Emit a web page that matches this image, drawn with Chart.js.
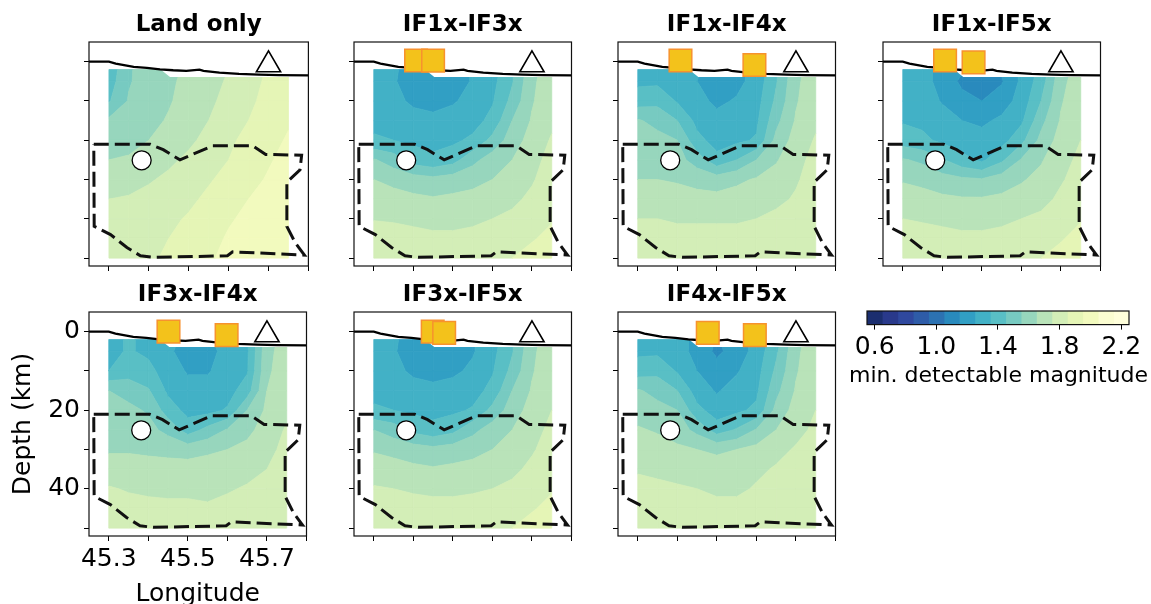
<!DOCTYPE html>
<html>
<head>
<meta charset="utf-8">
<script src="https://cdn.jsdelivr.net/npm/chart.js@4.4.1/dist/chart.umd.min.js"></script>
<style>
  html, body { margin: 0; padding: 0; background: #fff; overflow: hidden; }
  body { width: 1151px; height: 604px; position: relative; }
  canvas { position: absolute; }
</style>
</head>
<body>
<script>
const FONT = 'DejaVu Sans';

// grid of the detection maps
const gridLon = [45.30, 45.35, 45.40, 45.45, 45.50, 45.55, 45.60, 45.65, 45.70, 45.75];
const gridDepth = [2, 5, 10, 15, 20, 25, 30, 35, 40, 45, 50];

// axis ticks
const lonTicks = [45.3, 45.4, 45.5, 45.6, 45.7, 45.8];
const lonLabels = [45.3, 45.5, 45.7];
const depthTicks = [0, 10, 20, 30, 40, 50];
const depthLabels = [0, 20, 40];

// contour levels (band centres) and colorbar ticks
const levelCenters = [0.6, 0.7, 0.8, 0.9, 1.0, 1.1, 1.2, 1.3, 1.4, 1.5, 1.6, 1.7, 1.8, 1.9, 2.0, 2.1, 2.2];
const cbTicks = [0.6, 1.0, 1.4, 1.8, 2.2];

// min. detectable magnitude, rows = gridDepth, cols = gridLon
const landOnly = [
  [1.38, 1.54, 1.59, 1.62, 1.67, 1.71, 1.75, 1.80, 1.86, 1.88],
  [1.40, 1.54, 1.60, 1.63, 1.68, 1.72, 1.76, 1.81, 1.87, 1.90],
  [1.44, 1.56, 1.61, 1.64, 1.69, 1.73, 1.78, 1.83, 1.88, 1.92],
  [1.57, 1.59, 1.62, 1.66, 1.71, 1.75, 1.80, 1.85, 1.90, 1.94],
  [1.61, 1.62, 1.65, 1.69, 1.73, 1.78, 1.83, 1.88, 1.92, 1.96],
  [1.65, 1.66, 1.69, 1.73, 1.77, 1.81, 1.85, 1.90, 1.94, 1.98],
  [1.70, 1.71, 1.74, 1.77, 1.80, 1.84, 1.88, 1.92, 1.96, 2.00],
  [1.75, 1.76, 1.78, 1.80, 1.83, 1.87, 1.91, 1.95, 1.98, 2.01],
  [1.79, 1.80, 1.81, 1.83, 1.86, 1.90, 1.94, 1.97, 2.00, 2.02],
  [1.81, 1.82, 1.83, 1.85, 1.88, 1.92, 1.96, 1.99, 2.01, 2.03],
  [1.82, 1.83, 1.84, 1.86, 1.90, 1.94, 1.97, 2.00, 2.02, 2.03],
];
const if1x3x = [
  [1.28, 1.26, 1.22, 1.18, 1.20, 1.26, 1.31, 1.42, 1.62, 1.70],
  [1.29, 1.26, 1.20, 1.16, 1.19, 1.26, 1.32, 1.44, 1.63, 1.71],
  [1.31, 1.28, 1.23, 1.21, 1.24, 1.28, 1.34, 1.48, 1.64, 1.72],
  [1.33, 1.31, 1.29, 1.28, 1.29, 1.31, 1.38, 1.55, 1.66, 1.73],
  [1.36, 1.35, 1.33, 1.32, 1.33, 1.37, 1.48, 1.60, 1.69, 1.76],
  [1.56, 1.50, 1.40, 1.37, 1.41, 1.52, 1.60, 1.65, 1.72, 1.78],
  [1.65, 1.62, 1.60, 1.58, 1.60, 1.62, 1.65, 1.69, 1.74, 1.80],
  [1.70, 1.69, 1.67, 1.66, 1.67, 1.68, 1.70, 1.73, 1.77, 1.82],
  [1.745, 1.74, 1.73, 1.72, 1.72, 1.73, 1.75, 1.77, 1.80, 1.84],
  [1.80, 1.79, 1.78, 1.77, 1.77, 1.78, 1.79, 1.81, 1.84, 1.88],
  [1.83, 1.82, 1.81, 1.81, 1.81, 1.81, 1.82, 1.85, 1.89, 1.93],
];
const if1x4x = [
  [1.32, 1.31, 1.29, 1.26, 1.20, 1.22, 1.28, 1.42, 1.62, 1.70],
  [1.33, 1.33, 1.30, 1.25, 1.19, 1.22, 1.29, 1.44, 1.63, 1.71],
  [1.40, 1.42, 1.34, 1.28, 1.23, 1.26, 1.31, 1.47, 1.64, 1.72],
  [1.56, 1.52, 1.45, 1.32, 1.28, 1.30, 1.33, 1.52, 1.66, 1.73],
  [1.60, 1.58, 1.55, 1.38, 1.31, 1.33, 1.36, 1.58, 1.69, 1.76],
  [1.62, 1.61, 1.59, 1.50, 1.38, 1.45, 1.55, 1.64, 1.72, 1.78],
  [1.65, 1.65, 1.64, 1.62, 1.60, 1.63, 1.66, 1.69, 1.74, 1.79],
  [1.70, 1.69, 1.69, 1.68, 1.68, 1.69, 1.70, 1.73, 1.76, 1.80],
  [1.75, 1.75, 1.74, 1.74, 1.74, 1.74, 1.75, 1.77, 1.79, 1.82],
  [1.79, 1.79, 1.78, 1.78, 1.78, 1.78, 1.79, 1.80, 1.81, 1.83],
  [1.82, 1.81, 1.81, 1.81, 1.81, 1.81, 1.81, 1.82, 1.83, 1.84],
];
const if1x5x = [
  [1.30, 1.28, 1.22, 1.16, 1.03, 1.16, 1.27, 1.38, 1.60, 1.70],
  [1.31, 1.29, 1.21, 1.13, 1.06, 1.14, 1.27, 1.40, 1.62, 1.71],
  [1.32, 1.31, 1.24, 1.18, 1.15, 1.20, 1.29, 1.45, 1.64, 1.72],
  [1.34, 1.33, 1.30, 1.25, 1.23, 1.27, 1.33, 1.52, 1.66, 1.73],
  [1.40, 1.37, 1.33, 1.30, 1.29, 1.31, 1.42, 1.58, 1.69, 1.75],
  [1.56, 1.53, 1.46, 1.38, 1.33, 1.43, 1.56, 1.64, 1.72, 1.77],
  [1.64, 1.62, 1.59, 1.57, 1.56, 1.60, 1.64, 1.68, 1.74, 1.79],
  [1.70, 1.69, 1.67, 1.66, 1.66, 1.67, 1.69, 1.72, 1.77, 1.81],
  [1.75, 1.74, 1.73, 1.72, 1.72, 1.73, 1.75, 1.77, 1.80, 1.84],
  [1.80, 1.79, 1.78, 1.77, 1.77, 1.78, 1.79, 1.81, 1.84, 1.89],
  [1.83, 1.82, 1.81, 1.81, 1.81, 1.81, 1.82, 1.85, 1.89, 1.93],
];
const if3x4x = [
  [1.32, 1.36, 1.33, 1.28, 1.22, 1.23, 1.30, 1.33, 1.60, 1.70],
  [1.32, 1.36, 1.33, 1.27, 1.20, 1.21, 1.29, 1.33, 1.62, 1.70],
  [1.35, 1.40, 1.38, 1.30, 1.24, 1.24, 1.30, 1.34, 1.63, 1.71],
  [1.55, 1.52, 1.46, 1.33, 1.29, 1.29, 1.31, 1.40, 1.65, 1.72],
  [1.58, 1.57, 1.54, 1.40, 1.32, 1.32, 1.36, 1.55, 1.67, 1.73],
  [1.61, 1.60, 1.58, 1.52, 1.40, 1.48, 1.56, 1.62, 1.70, 1.76],
  [1.64, 1.64, 1.63, 1.62, 1.61, 1.63, 1.65, 1.68, 1.72, 1.78],
  [1.69, 1.69, 1.69, 1.69, 1.69, 1.70, 1.70, 1.72, 1.75, 1.80],
  [1.76, 1.74, 1.73, 1.73, 1.73, 1.73, 1.74, 1.76, 1.78, 1.82],
  [1.80, 1.79, 1.78, 1.77, 1.77, 1.76, 1.78, 1.80, 1.82, 1.84],
  [1.82, 1.81, 1.81, 1.80, 1.80, 1.80, 1.81, 1.82, 1.83, 1.84],
];
const if3x5x = [
  [1.30, 1.26, 1.22, 1.19, 1.20, 1.24, 1.31, 1.42, 1.62, 1.70],
  [1.30, 1.26, 1.20, 1.17, 1.19, 1.24, 1.32, 1.44, 1.63, 1.71],
  [1.31, 1.28, 1.23, 1.21, 1.23, 1.27, 1.34, 1.48, 1.64, 1.72],
  [1.33, 1.31, 1.29, 1.28, 1.29, 1.31, 1.38, 1.55, 1.66, 1.73],
  [1.36, 1.35, 1.33, 1.32, 1.33, 1.36, 1.48, 1.60, 1.69, 1.75],
  [1.55, 1.50, 1.42, 1.38, 1.42, 1.52, 1.60, 1.65, 1.72, 1.77],
  [1.64, 1.62, 1.60, 1.58, 1.60, 1.62, 1.65, 1.69, 1.74, 1.79],
  [1.70, 1.69, 1.67, 1.66, 1.67, 1.68, 1.70, 1.73, 1.77, 1.81],
  [1.76, 1.75, 1.74, 1.73, 1.73, 1.74, 1.75, 1.77, 1.80, 1.84],
  [1.80, 1.79, 1.78, 1.78, 1.78, 1.78, 1.79, 1.81, 1.84, 1.88],
  [1.83, 1.82, 1.81, 1.81, 1.81, 1.81, 1.82, 1.85, 1.89, 1.93],
];
const if4x5x = [
  [1.32, 1.31, 1.29, 1.22, 1.14, 1.20, 1.28, 1.40, 1.62, 1.70],
  [1.33, 1.33, 1.30, 1.21, 1.13, 1.19, 1.29, 1.43, 1.63, 1.71],
  [1.40, 1.42, 1.34, 1.25, 1.19, 1.24, 1.31, 1.47, 1.64, 1.72],
  [1.56, 1.52, 1.45, 1.30, 1.24, 1.29, 1.33, 1.52, 1.66, 1.73],
  [1.61, 1.58, 1.55, 1.38, 1.30, 1.33, 1.37, 1.58, 1.69, 1.75],
  [1.66, 1.64, 1.60, 1.52, 1.40, 1.46, 1.56, 1.65, 1.72, 1.77],
  [1.70, 1.69, 1.67, 1.65, 1.63, 1.65, 1.68, 1.72, 1.76, 1.80],
  [1.74, 1.73, 1.72, 1.71, 1.70, 1.71, 1.73, 1.76, 1.79, 1.81],
  [1.78, 1.77, 1.76, 1.75, 1.73, 1.73, 1.76, 1.79, 1.81, 1.83],
  [1.81, 1.80, 1.80, 1.79, 1.78, 1.78, 1.80, 1.81, 1.83, 1.84],
  [1.83, 1.82, 1.82, 1.82, 1.82, 1.82, 1.82, 1.83, 1.84, 1.85],
];

const panelTitles = ['Land only', 'IF1x-IF3x', 'IF1x-IF4x', 'IF1x-IF5x', 'IF3x-IF4x', 'IF3x-IF5x', 'IF4x-IF5x'];
const panelGrids = [landOnly, if1x3x, if1x4x, if1x5x, if3x4x, if3x5x, if4x5x];

// seafloor instruments (squares) per panel
const obsLon = [[], [45.407, 45.450], [45.408, 45.595], [45.407, 45.479], [45.451, 45.598], [45.449, 45.478], [45.477, 45.596]];
const obsDepth = [[], [-0.3, -0.25], [-0.3, 0.85], [-0.3, 0.2], [0.0, 0.9], [0.0, 0.3], [0.3, 0.9]];

// land station, source, coastline, dashed zone, masked cells near the surface
const stationLon = [45.70];
const stationDepth = [0.8];
const sourceLon = [45.382];
const sourceDepth = [25.1];
const coastLon = [45.25, 45.30, 45.317, 45.362, 45.395, 45.428, 45.461, 45.494, 45.527, 45.537, 45.577, 45.626, 45.676, 45.726, 45.80];
const coastDepth = [0, 0, 0.5, 1.35, 1.6, 1.94, 2.19, 2.36, 2.03, 2.36, 2.78, 3.12, 3.32, 3.45, 3.5];
const zoneLon = [45.262, 45.403, 45.436, 45.478, 45.56, 45.66, 45.693, 45.783, 45.779, 45.746, 45.746, 45.767, 45.79, 45.61, 45.597, 45.412, 45.379, 45.345, 45.304, 45.263, 45.262];
const zoneDepth = [21.0, 21.0, 22.4, 25.0, 21.4, 21.4, 23.6, 23.8, 27.5, 30.7, 41.9, 46.1, 49.2, 48.4, 49.4, 49.8, 49.4, 47.3, 44.0, 41.9, 21.0];
const maskLon = [45.428, 45.453, 45.76, 45.76];
const maskDepth = [1.9, 3.9, 3.9, 1.9];

// layout
const panelLeft = [89, 354, 618, 883, 89, 354, 618];
const panelTop = [42, 42, 42, 42, 312, 312, 312];
const PLOT_W = 221, PLOT_H = 224, Y_AXIS_W = 89, TITLE_H = 31;

const ylgnbu = ['#ffffd9', '#edf8b1', '#c7e9b4', '#7fcdbb', '#41b6c4', '#1d91c0', '#225ea8', '#253494', '#081d58'];

const hexRgb = (h) => [1, 3, 5].map((i) => parseInt(h.substr(i, 2), 16));

// YlGnBu_r, slightly transparent over white
const bandColor = (i) => {
  const stops = ylgnbu.slice().reverse();
  const t = Math.min((i + 0.5) / (levelCenters.length - 1), 1);
  const pos = t * (stops.length - 1);
  const k = Math.min(Math.floor(pos), stops.length - 2);
  const f = pos - k;
  const a = hexRgb(stops[k]);
  const b = hexRgb(stops[k + 1]);
  const rgb = a.map((v, j) => (v + (b[j] - v) * f) * 0.95 + 255 * 0.05);
  return 'rgb(' + rgb.map(Math.round).join(',') + ')';
};
const bandColors = levelCenters.map((c, i) => bandColor(i));

// keep the part of a polygon where f(p) >= 0
const clipHalf = (poly, f) => {
  const out = [];
  for (let i = 0; i < poly.length; i++) {
    const a = poly[i];
    const b = poly[(i + 1) % poly.length];
    const fa = f(a);
    const fb = f(b);
    if (fa >= 0) out.push(a);
    if ((fa >= 0) !== (fb >= 0)) {
      const t = fa / (fa - fb);
      out.push({ x: a.x + t * (b.x - a.x), y: a.y + t * (b.y - a.y), v: a.v + t * (b.v - a.v) });
    }
  }
  return out;
};

const contourPlugin = (grid) => ({
  id: 'contour',
  beforeDatasetsDraw(chart) {
    const xs = chart.scales.x;
    const ys = chart.scales.y;
    const ctx = chart.ctx;
    const pt = (r, c) => ({ x: xs.getPixelForValue(gridLon[c]), y: ys.getPixelForValue(gridDepth[r]), v: grid[r][c] });
    ctx.save();
    ctx.lineWidth = 0.8;
    ctx.lineJoin = 'round';
    for (let r = 0; r < gridDepth.length - 1; r++) {
      for (let c = 0; c < gridLon.length - 1; c++) {
        const quad = [pt(r, c), pt(r, c + 1), pt(r + 1, c + 1), pt(r + 1, c)];
        levelCenters.forEach((lc, k) => {
          let poly = clipHalf(quad, (p) => p.v - (lc - 0.05));
          if (poly.length < 3) return;
          poly = clipHalf(poly, (p) => (lc + 0.05) - p.v);
          if (poly.length < 3) return;
          ctx.beginPath();
          poly.forEach((p, i) => (i ? ctx.lineTo(p.x, p.y) : ctx.moveTo(p.x, p.y)));
          ctx.closePath();
          ctx.fillStyle = bandColors[k];
          ctx.strokeStyle = bandColors[k];
          ctx.fill();
          ctx.stroke();
        });
      }
    }
    // masked cells below the coastline
    ctx.beginPath();
    maskLon.forEach((x, i) => {
      const px = xs.getPixelForValue(x);
      const py = ys.getPixelForValue(maskDepth[i]);
      i ? ctx.lineTo(px, py) : ctx.moveTo(px, py);
    });
    ctx.closePath();
    ctx.fillStyle = '#fff';
    ctx.fill();
    ctx.restore();
  },
});

const framePlugin = {
  id: 'frame',
  afterDatasetsDraw(chart) {
    const a = chart.chartArea;
    const ctx = chart.ctx;
    ctx.save();
    ctx.strokeStyle = '#111';
    ctx.lineWidth = 1.2;
    ctx.strokeRect(a.left, a.top, a.right - a.left, a.bottom - a.top);
    ctx.restore();
  },
};

const toPoints = (xs, ys) => xs.map((x, i) => ({ x, y: ys[i] }));
const near = (list, v) => list.some((t) => Math.abs(t - v) < 1e-6);

const makeCanvas = (left, top, w, h) => {
  const cv = document.createElement('canvas');
  cv.width = w;
  cv.height = h;
  cv.style.left = left + 'px';
  cv.style.top = top + 'px';
  cv.style.width = w + 'px';
  cv.style.height = h + 'px';
  document.body.appendChild(cv);
  return cv;
};

// an axis box that only holds a fixed amount of space
const spacer = (position, size, extra) => Object.assign({
  type: 'linear',
  position,
  display: true,
  ticks: { display: false },
  grid: { display: false },
  border: { display: false },
  afterFit: (s) => {
    if (s.isHorizontal()) s.height = size; else s.width = size;
  },
}, extra || {});

const makePanel = (p) => {
  const labelled = p === 4;
  const row2 = panelTop[p] > 100;
  const top = panelTop[p] - TITLE_H;
  const h = row2 ? 620 - top : 300;
  const w = Y_AXIS_W + PLOT_W + 14;
  const cv = makeCanvas(panelLeft[p] - Y_AXIS_W, top, w, h);
  const xAxisH = h - TITLE_H - PLOT_H;

  new Chart(cv, {
    type: 'scatter',
    data: {
      datasets: [
        {
          data: toPoints(obsLon[p], obsDepth[p]),
          pointStyle: 'rect',
          pointRadius: 16,
          backgroundColor: '#f3c21b',
          borderColor: '#f7922e',
          borderWidth: 1.5,
          order: 0,
        },
        {
          data: toPoints(stationLon, stationDepth),
          pointStyle: 'triangle',
          pointRadius: 14,
          backgroundColor: '#fff',
          borderColor: '#000',
          borderWidth: 1.6,
          order: 1,
        },
        {
          data: toPoints(sourceLon, sourceDepth),
          pointStyle: 'circle',
          pointRadius: 9.5,
          backgroundColor: '#fff',
          borderColor: '#000',
          borderWidth: 1.3,
          order: 2,
        },
        {
          data: toPoints(zoneLon, zoneDepth),
          showLine: true,
          borderColor: '#111',
          borderWidth: 3,
          borderDash: [15, 6],
          pointRadius: 0,
          order: 3,
        },
        {
          data: toPoints(coastLon, coastDepth),
          showLine: true,
          borderColor: '#000',
          borderWidth: 2.3,
          pointRadius: 0,
          order: 4,
        },
      ],
    },
    options: {
      responsive: false,
      animation: false,
      devicePixelRatio: 1,
      events: [],
      layout: { padding: { left: 0, right: 14, top: 0, bottom: 0 } },
      plugins: {
        legend: { display: false },
        tooltip: { enabled: false },
        title: { display: false },
      },
      scales: {
        x: {
          type: 'linear',
          min: 45.25,
          max: 45.8,
          afterBuildTicks: (s) => { s.ticks = lonTicks.map((v) => ({ value: v })); },
          afterFit: (s) => { s.height = xAxisH; },
          ticks: {
            autoSkip: false,
            maxRotation: 0,
            padding: 3,
            color: '#000',
            font: { family: FONT, size: 25 },
            callback: (v) => (labelled && near(lonLabels, v) ? v.toFixed(1) : ''),
          },
          grid: { drawOnChartArea: false, tickLength: 5, color: '#000', lineWidth: 1 },
          border: { display: false },
          title: {
            display: labelled,
            text: 'Longitude',
            color: '#000',
            font: { family: FONT, size: 25, lineHeight: 1.2 },
            padding: { top: 0, bottom: 11 },
          },
        },
        // panel title, centred over the plot area
        xTop: spacer('top', TITLE_H, {
          min: 45.25,
          max: 45.8,
          title: {
            display: true,
            text: panelTitles[p],
            color: '#000',
            font: { family: FONT, size: 23, weight: 'bold', lineHeight: 1.2 },
            padding: { top: 0, bottom: 0 },
          },
        }),
        y: {
          type: 'linear',
          reverse: true,
          min: -5,
          max: 52,
          afterBuildTicks: (s) => { s.ticks = depthTicks.map((v) => ({ value: v })); },
          afterFit: (s) => { s.width = Y_AXIS_W; },
          ticks: {
            autoSkip: false,
            padding: 4,
            color: '#000',
            font: { family: FONT, size: 25 },
            callback: (v) => (labelled && near(depthLabels, v) ? String(v) : ''),
          },
          grid: { drawOnChartArea: false, tickLength: 5, color: '#000', lineWidth: 1 },
          border: { display: false },
          title: {
            display: labelled,
            text: 'Depth (km)',
            color: '#000',
            font: { family: FONT, size: 25, lineHeight: 1.2 },
            padding: { top: 8, bottom: 0 },
          },
        },
      },
    },
    plugins: [contourPlugin(panelGrids[p]), framePlugin],
  });
};

const makeColorbar = () => {
  // plot area 867..1129 x 311..324; canvas centred on it so the label centres too
  const cv = makeCanvas(840, 300, 317, 89);
  new Chart(cv, {
    type: 'bar',
    data: {
      labels: ['m'],
      datasets: levelCenters.map((c, i) => ({
        data: [[c - 0.05, c + 0.05]],
        backgroundColor: bandColors[i],
        borderWidth: 0,
        barPercentage: 1,
        categoryPercentage: 1,
        grouped: false,
      })),
    },
    options: {
      indexAxis: 'y',
      responsive: false,
      animation: false,
      devicePixelRatio: 1,
      events: [],
      layout: { padding: { left: 0, right: 0, top: 11, bottom: 0 } },
      plugins: {
        legend: { display: false },
        tooltip: { enabled: false },
        title: {
          display: true,
          position: 'bottom',
          text: 'min. detectable magnitude',
          color: '#000',
          font: { family: FONT, size: 22, weight: 'normal', lineHeight: 1.2 },
          padding: { top: 0, bottom: 0 },
        },
      },
      scales: {
        x: {
          type: 'linear',
          min: 0.55,
          max: 2.25,
          afterBuildTicks: (s) => { s.ticks = cbTicks.map((v) => ({ value: v })); },
          afterFit: (s) => { s.height = 38; },
          ticks: {
            autoSkip: false,
            maxRotation: 0,
            padding: 3,
            color: '#000',
            font: { family: FONT, size: 25 },
            callback: (v) => v.toFixed(1),
          },
          grid: { drawOnChartArea: false, tickLength: 5, color: '#000', lineWidth: 1 },
          border: { display: false },
        },
        y: {
          display: true,
          ticks: { display: false },
          grid: { display: false },
          border: { display: false },
          afterFit: (s) => { s.width = 27; },
        },
        yRight: spacer('right', 28),
      },
    },
    plugins: [framePlugin],
  });
};

panelTitles.forEach((t, p) => makePanel(p));
makeColorbar();
</script>
</body>
</html>
